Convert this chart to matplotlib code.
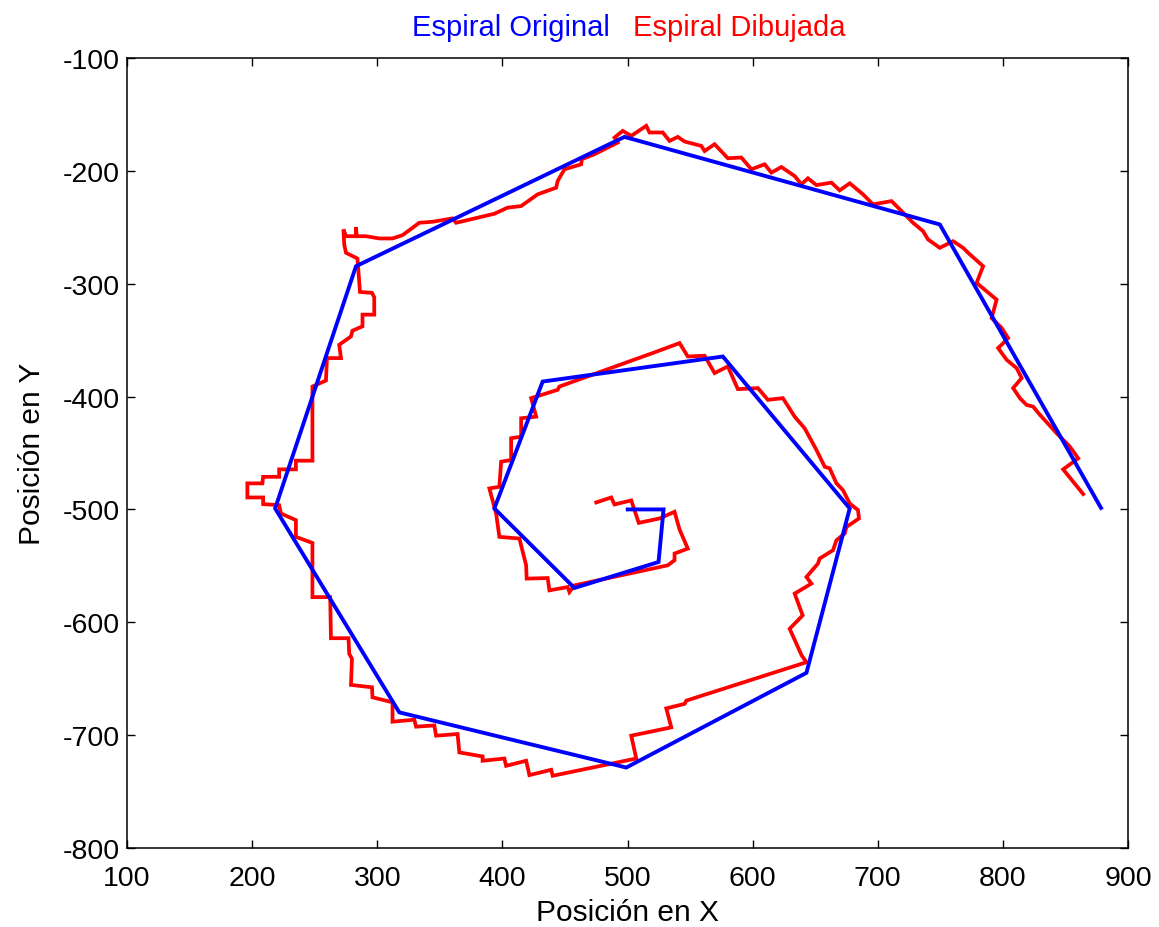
import matplotlib
matplotlib.use("Agg")
import matplotlib.pyplot as plt

plt.rcParams['font.family'] = ['Liberation Sans', 'DejaVu Sans']
plt.rcParams['axes.unicode_minus'] = False

# Original spiral (blue)
orig_x = [500.2, 528.8, 524.8, 457.6, 393.6, 432.2, 576.2, 677.6, 643.0, 499.0,
          317.6, 218.4, 283.0, 497.6, 749.6, 878.4]
orig_y = [-500.0, -500.0, -546.6, -569.6, -499.1, -386.7, -364.5, -499.1, -644.8, -728.7,
          -679.8, -499.1, -284.5, -169.9, -247.5, -498.6]

# Hand-drawn spiral (red)
drawn_x = [475.0, 487.0, 489.6, 503.0, 509.0, 525.6, 537.6, 541.6, 548.2, 537.6,
           537.6, 532.2, 457.6, 453.6, 452.2, 437.6, 436.2, 419.4, 419.0, 413.6,
           397.6, 395.0, 389.6, 397.6, 399.0, 407.0, 407.0, 415.0, 415.0, 427.0,
           423.0, 444.2, 445.6, 520.2, 541.6, 548.2, 561.6, 569.6, 580.2, 588.2,
           604.2, 612.2, 624.2, 633.6, 641.6, 651.0, 657.6, 661.6, 667.0, 672.2,
           677.6, 684.2, 685.0, 675.0, 673.6, 667.0, 664.2, 653.6, 652.2, 643.0,
           647.0, 633.6, 640.0, 629.6, 639.2, 643.0, 547.0, 545.6, 531.0, 535.0,
           503.0, 507.0, 440.2, 439.0, 421.6, 419.0, 403.0, 401.6, 384.2, 384.2,
           365.6, 364.2, 347.0, 345.6, 331.0, 329.6, 312.2, 312.2, 296.2, 295.8,
           279.0, 279.8, 277.6, 277.0, 263.0, 262.4, 248.2, 248.2, 235.0, 235.0,
           223.0, 221.6, 208.8, 208.8, 196.2, 196.2, 208.2, 208.8, 221.6, 221.6,
           235.0, 235.0, 248.2, 248.2, 259.0, 259.8, 271.0, 269.6, 279.0, 280.2,
           288.2, 288.2, 297.6, 297.6, 295.8, 286.2, 284.2, 275.0, 273.6, 273.0,
           275.0, 283.0, 283.0, 283.6, 291.0, 301.6, 312.2, 320.2, 333.6, 344.2,
           360.2, 363.0, 393.6, 404.2, 415.0, 428.2, 443.0, 444.2, 449.6, 463.0,
           463.4, 473.6, 492.2, 489.6, 496.2, 503.0, 515.0, 517.6, 528.2, 533.6,
           540.2, 545.6, 559.0, 561.6, 569.6, 580.2, 591.0, 599.0, 609.6, 615.0,
           623.0, 633.6, 639.0, 644.2, 651.0, 663.0, 669.6, 677.6, 688.2, 696.2,
           711.0, 717.6, 728.2, 736.2, 740.2, 749.6, 760.2, 768.2, 772.2, 784.2,
           779.0, 795.0, 791.0, 799.0, 804.2, 799.0, 796.2, 803.0, 811.0, 815.0,
           808.2, 813.6, 819.0, 824.2, 829.6, 843.0, 853.6, 860.2, 848.2, 864.2]
drawn_y = [-493.8, -489.4, -495.6, -492.0, -511.9, -508.0, -502.1, -517.8, -534.7, -539.1,
           -545.0, -549.5, -567.3, -573.2, -568.8, -571.7, -560.8, -561.3, -549.5, -525.8,
           -524.3, -503.6, -481.4, -479.9, -457.7, -456.2, -436.9, -435.5, -419.2, -417.8,
           -401.4, -394.0, -391.1, -361.4, -352.6, -364.5, -363.8, -379.2, -373.3, -393.4,
           -392.5, -402.9, -401.4, -417.8, -428.1, -447.3, -462.2, -463.6, -476.9, -482.9,
           -494.7, -500.6, -508.0, -515.5, -521.3, -527.3, -536.2, -543.5, -548.0, -559.9,
           -565.7, -574.6, -593.9, -605.7, -629.4, -635.4, -669.4, -672.3, -676.3, -693.1,
           -700.5, -720.7, -736.0, -730.7, -735.4, -722.7, -727.2, -720.7, -722.7, -718.9,
           -715.3, -699.0, -700.5, -691.4, -692.5, -686.3, -688.1, -670.9, -666.5, -657.6,
           -655.5, -632.4, -627.9, -614.1, -614.1, -577.7, -577.7, -529.7, -524.3, -509.5,
           -503.6, -496.2, -495.3, -489.4, -489.4, -476.9, -476.9, -471.1, -471.1, -464.5,
           -464.5, -456.8, -456.8, -391.1, -385.8, -365.9, -365.9, -354.1, -346.7, -341.6,
           -337.8, -327.4, -327.4, -312.1, -308.1, -307.3, -277.7, -272.6, -265.2, -251.9,
           -257.9, -257.9, -250.1, -257.9, -257.9, -259.9, -259.9, -257.0, -246.0, -245.1,
           -242.1, -246.0, -238.0, -232.6, -231.2, -220.8, -214.9, -209.0, -198.6, -194.2,
           -189.7, -185.3, -174.9, -170.5, -164.6, -169.0, -160.1, -166.0, -166.0, -173.5,
           -169.9, -174.0, -177.9, -182.4, -176.4, -188.8, -188.2, -198.6, -194.2, -201.6,
           -196.6, -204.6, -211.9, -206.6, -212.6, -210.4, -217.3, -211.0, -220.8, -229.7,
           -226.8, -234.1, -246.0, -253.4, -260.8, -268.2, -262.3, -268.2, -272.6, -284.5,
           -299.3, -314.1, -330.4, -339.2, -348.1, -354.1, -357.0, -367.4, -374.8, -383.6,
           -392.5, -401.4, -407.4, -408.9, -416.2, -432.5, -444.4, -454.7, -464.5, -486.4]

x_ticks = [100, 200, 300, 400, 500, 600, 700, 800, 900]
y_ticks = [-800, -700, -600, -500, -400, -300, -200, -100]

fig = plt.figure(figsize=(11.59, 9.28), dpi=100)
ax = fig.add_axes([127 / 1159, 1 - 849 / 928, 1001 / 1159, 790 / 928])

ax.plot(drawn_x, drawn_y, color='#ff0000', lw=2.7, solid_joinstyle='miter')
ax.plot(orig_x, orig_y, color='#0000ff', lw=2.8, solid_joinstyle='miter')

ax.set_xlim(100, 900)
ax.set_ylim(-800, -100)
ax.set_xticks(x_ticks)
ax.set_yticks(y_ticks)
ax.tick_params(direction='in', length=6, width=1.0, top=True, right=True,
               labelsize=20.5, colors='black')
ax.tick_params(axis='x', pad=12)
ax.tick_params(axis='y', pad=5)
for s in ax.spines.values():
    s.set_linewidth(1.1)

ax.set_xlabel('Posición en X', fontsize=21.5, labelpad=5)
ax.set_ylabel('Posición en Y', fontsize=21.5, labelpad=12)

fig.text(610 / 1159, 1 - 28 / 928, 'Espiral Original', color='#0000ff',
         fontsize=21, ha='right', va='center')
fig.text(633 / 1159, 1 - 28 / 928, 'Espiral Dibujada', color='#ff0000',
         fontsize=21, ha='left', va='center')

fig.savefig('out.png', dpi=100)
